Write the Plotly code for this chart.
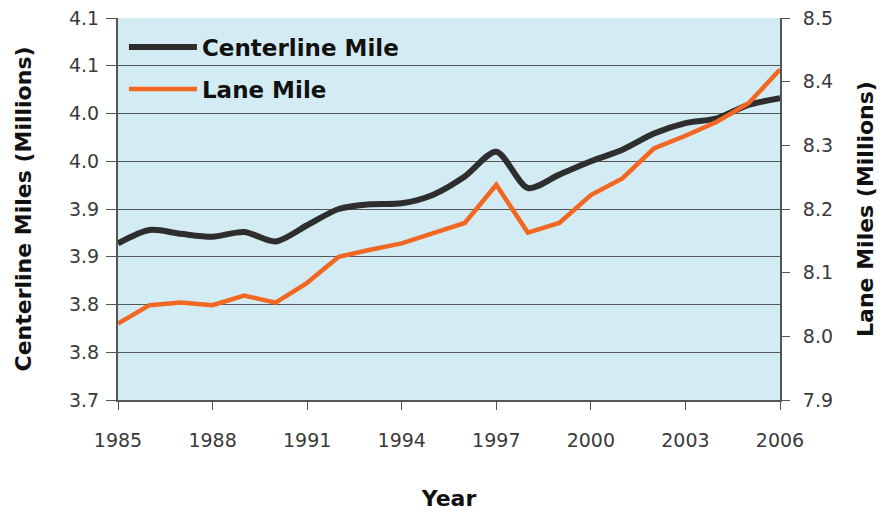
import plotly.graph_objects as go

years = list(range(1985, 2007))
centerline_miles = [3.864, 3.878, 3.874, 3.871, 3.876, 3.866, 3.883, 3.900, 3.905, 3.906, 3.915,
                    3.934, 3.960, 3.922, 3.936, 3.950, 3.962, 3.979, 3.990, 3.995, 4.009, 4.016]
lane_miles = [8.020, 8.049, 8.053, 8.049, 8.064, 8.053, 8.084, 8.125, 8.136, 8.146, 8.162,
              8.178, 8.238, 8.163, 8.178, 8.222, 8.248, 8.295, 8.315, 8.337, 8.366, 8.419]

left_tickvals = [3.70, 3.75, 3.80, 3.85, 3.90, 3.95, 4.00, 4.05, 4.10]
left_ticktext = ["3.7", "3.8", "3.8", "3.9", "3.9", "4.0", "4.0", "4.1", "4.1"]
right_tickvals = [7.9, 8.0, 8.1, 8.2, 8.3, 8.4, 8.5]
right_ticktext = ["7.9", "8.0", "8.1", "8.2", "8.3", "8.4", "8.5"]
x_tickvals = [1985, 1988, 1991, 1994, 1997, 2000, 2003, 2006]

tick_font = dict(family="DejaVu Sans, sans-serif", size=19, color="#3a3a3a")
title_font = dict(family="DejaVu Sans, sans-serif", size=22, color="#111111")

fig = go.Figure()

fig.add_trace(
    go.Scatter(
        x=years,
        y=centerline_miles,
        name="<b>Centerline Mile</b>",
        mode="lines",
        line=dict(color="#2e2e2e", width=6, shape="spline", smoothing=0.8),
        legendgroup="a",
        yaxis="y",
    )
)
fig.add_trace(
    go.Scatter(
        x=years,
        y=lane_miles,
        name="<b>Lane Mile</b>",
        mode="lines",
        line=dict(color="#f26722", width=4.5),
        legendgroup="b",
        yaxis="y2",
    )
)

# the page body adds an 8px margin, so the plot box is shifted back by that much
fig.update_layout(
    width=890,
    height=514,
    margin=dict(l=110, r=118, t=10, b=122),
    plot_bgcolor="#d3ebf2",
    paper_bgcolor="white",
    showlegend=True,
    legend=dict(
        x=0.009,
        y=0.98,
        xanchor="left",
        yanchor="top",
        bgcolor="rgba(0,0,0,0)",
        font=dict(family="DejaVu Sans, sans-serif", size=23, color="#111111"),
        traceorder="grouped",
        tracegroupgap=9,
        itemwidth=68,
    ),
    xaxis=dict(
        range=[1985, 2006],
        tickvals=x_tickvals,
        ticks="outside",
        ticklen=8,
        tickcolor="#555555",
        tickfont=tick_font,
        ticklabelstandoff=14,
        showgrid=False,
        showline=True,
        linecolor="#555555",
        linewidth=2,
        zeroline=False,
        automargin=False,
        title=dict(text="<b>Year</b>", font=title_font, standoff=41),
    ),
    yaxis=dict(
        range=[3.70, 4.10],
        tickvals=left_tickvals,
        ticktext=left_ticktext,
        ticks="outside",
        ticklen=10,
        tickcolor="#555555",
        tickfont=tick_font,
        ticklabelstandoff=3,
        ticklabeloverflow="allow",
        showgrid=True,
        gridcolor="#555555",
        gridwidth=1,
        showline=True,
        linecolor="#555555",
        linewidth=2,
        zeroline=False,
        automargin=False,
        title=dict(text="<b>Centerline Miles (Millions)</b>", font=title_font, standoff=31),
    ),
    yaxis2=dict(
        range=[7.9, 8.5],
        tickvals=right_tickvals,
        ticktext=right_ticktext,
        overlaying="y",
        side="right",
        ticks="outside",
        ticklen=8,
        tickcolor="#555555",
        tickfont=tick_font,
        ticklabelstandoff=9,
        ticklabeloverflow="allow",
        showgrid=False,
        showline=True,
        linecolor="#555555",
        linewidth=2,
        zeroline=False,
        automargin=False,
        title=dict(text="<b>Lane Miles (Millions)</b>", font=title_font, standoff=26),
    ),
)

fig.write_html("out.html")
